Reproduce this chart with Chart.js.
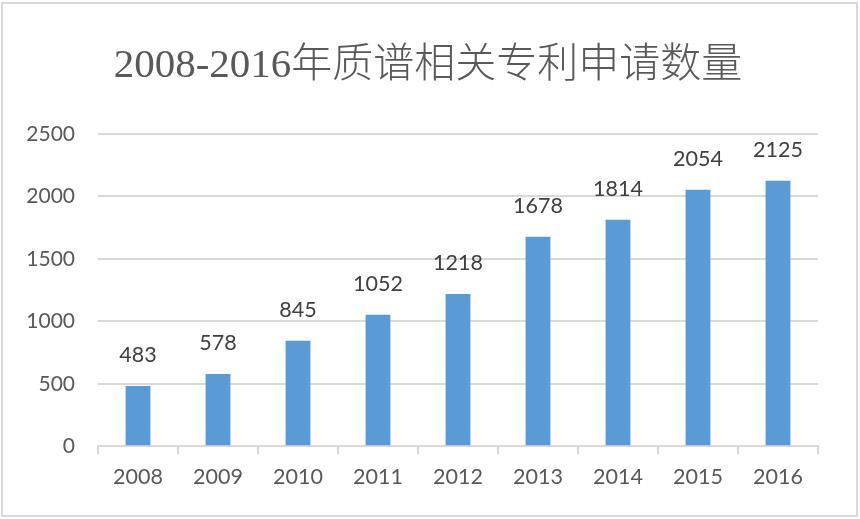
<!DOCTYPE html>
<html>
<head>
<meta charset="utf-8">
<script src="https://cdn.jsdelivr.net/npm/chart.js@4"></script>
<style>
	body { margin: 0; background: #fff; }
	#wrap { position: relative; width: 860px; height: 519px; }
	#frame { position: absolute; left: 1px; top: 2px; width: 853px; height: 511px; border: 2px solid #d9d9d9; }
	canvas { position: absolute; left: 0; top: 0; }
</style>
</head>
<body>
<div id="wrap">
	<div id="frame"></div>
	<canvas id="chartPatents" width="860" height="519"></canvas>
</div>
<script>
var years = ["2008", "2009", "2010", "2011", "2012", "2013", "2014", "2015", "2016"];
var patentCounts = [483, 578, 845, 1052, 1218, 1678, 1814, 2054, 2125];
var yTicks = [0, 500, 1000, 1500, 2000, 2500];
var chartTitle = "2008-2016年质谱相关专利申请数量";

// value labels above each bar, placed from the bar elements
var barLabels = {
	id: 'barLabels',
	afterDatasetsDraw: function(chart){
		var ctx = chart.ctx;
		var meta = chart.getDatasetMeta(0);
		ctx.save();
		ctx.font = "21.5px Lato";
		ctx.fillStyle = "#404040";
		ctx.textAlign = "center";
		ctx.textBaseline = "middle";
		for (var i = 0; i < meta.data.length; i++) {
			var bar = meta.data[i];
			ctx.fillText(String(patentCounts[i]), bar.x, bar.y - 31);
		}
		ctx.restore();
	}
};

// title centred on the whole frame, not only on the plot
var frameTitle = {
	id: 'frameTitle',
	afterDraw: function(chart){
		var ctx = chart.ctx;
		ctx.save();
		ctx.font = "300 41px 'Liberation Serif', 'Noto Sans CJK SC'";
		ctx.fillStyle = "#595959";
		ctx.textAlign = "center";
		ctx.textBaseline = "middle";
		ctx.fillText(chartTitle, chart.width / 2 - 2, 66);
		ctx.restore();
	}
};

var chart = new Chart(document.getElementById("chartPatents"), {
	type: 'bar',
	data: {
		labels: years,
		datasets: [{
			data: patentCounts,
			backgroundColor: "#5b9bd5",
			barPercentage: 0.31,
			categoryPercentage: 1
		}]
	},
	options: {
		responsive: false,
		animation: false,
		devicePixelRatio: 1,
		layout: {
			padding: { left: 0, right: 42, top: 134, bottom: 19 }
		},
		plugins: {
			legend: { display: false },
			tooltip: { enabled: false },
			title: { display: false }
		},
		scales: {
			x: {
				grid: { drawOnChartArea: false, drawTicks: true, tickLength: 8, color: "#d9d9d9", lineWidth: 2 },
				border: { display: true, color: "#d9d9d9", width: 2 },
				ticks: { color: "#595959", font: { family: "Lato", size: 21.5 }, padding: 10, maxRotation: 0 }
			},
			y: {
				min: 0,
				max: 2500,
				afterFit: function(scale){ scale.width = 98; },
				afterBuildTicks: function(scale){
					scale.ticks = yTicks.map(function(v){ return { value: v }; });
				},
				grid: { drawTicks: false, color: "#d9d9d9", lineWidth: 2 },
				border: { display: false },
				ticks: {
					color: "#595959",
					font: { family: "Lato", size: 21 },
					padding: 23,
					callback: function(v){ return String(v); }
				}
			}
		}
	},
	plugins: [barLabels, frameTitle]
});
</script>
</body>
</html>
